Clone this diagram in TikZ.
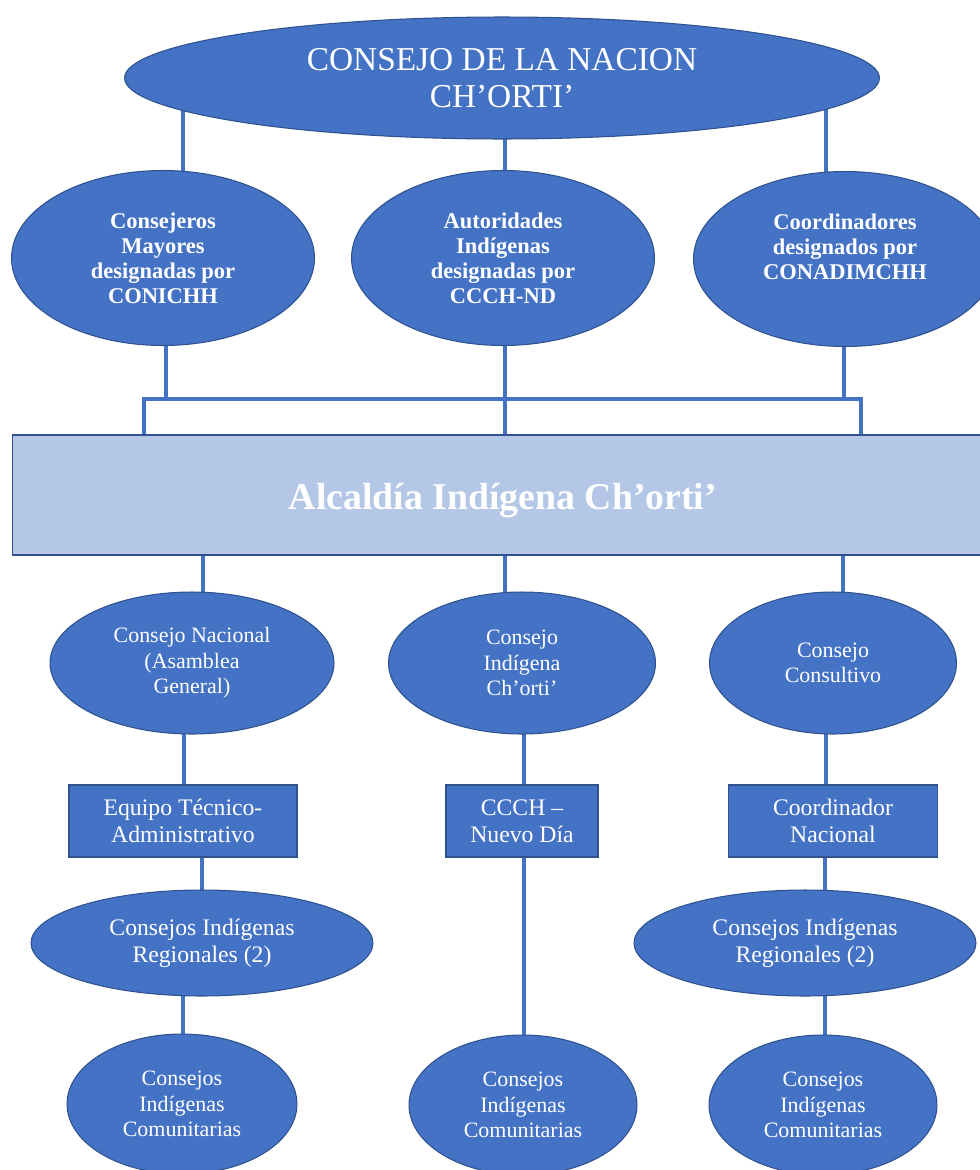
\documentclass[tikz,border=0pt]{standalone}
\usepackage{fontspec}
\setmainfont{Liberation Serif}
\usetikzlibrary{shapes.geometric,backgrounds}

\definecolor{nodeblue}{HTML}{4472C4}
\definecolor{edgeblue}{HTML}{2F528F}
\definecolor{paleblue}{HTML}{B4C7E7}

\tikzset{
  blob/.style={ellipse,draw=edgeblue,line width=0.6pt,fill=nodeblue,
    text=white,align=center,inner sep=0pt},
  boxnode/.style={rectangle,draw=edgeblue,line width=0.6pt,fill=nodeblue,
    text=white,align=center,inner sep=0pt},
  link/.style={draw=nodeblue,line width=2.1pt},
  boldtxt/.style={font=\fontsize{12.8}{14.2}\selectfont\bfseries},
  plaintxt/.style={font=\fontsize{12.5}{14.6}\selectfont},
  bigtxt/.style={font=\fontsize{13.5}{15.5}\selectfont},
}

\begin{document}
\begin{tikzpicture}[x=0.02cm,y=-0.02cm]
  \useasboundingbox (0,0) rectangle (980,1170);
  \clip (0,0) rectangle (980,1170);

  % top
  \node [blob,minimum width=15.1cm,minimum height=2.44cm,
         font=\fontsize{19}{21}\selectfont] (nacion) at (502,78)
        {CONSEJO DE LA NACION\\CH’ORTI’};

  % designados
  \node [blob,boldtxt,minimum width=6.06cm,minimum height=3.5cm] (consejeros) at (163,258)
        {Consejeros\\Mayores\\designadas por\\CONICHH};
  \node [blob,boldtxt,minimum width=6.06cm,minimum height=3.5cm] (autoridades) at (503,258)
        {Autoridades\\Indígenas\\designadas por\\CCCH-ND};
  \node [blob,boldtxt,minimum width=6.06cm,minimum height=3.5cm] (coordinadores) at (845,259)
        {Coordinadores\\designados por\\CONADIMCHH\\};

  % alcaldia
  \node [rectangle,draw=edgeblue,line width=0.6pt,fill=paleblue,text=white,
         minimum width=19.64cm,minimum height=2.4cm,
         font=\fontsize{21.5}{24}\selectfont\bfseries] (alcaldia) at (503,495)
        {\raisebox{-8pt}[0pt][0pt]{Alcaldía Indígena Ch’orti’}};

  % consejos
  \node [blob,plaintxt,minimum width=5.68cm,minimum height=2.84cm] (nacional) at (192,663)
        {Consejo Nacional\\(Asamblea\\General)};
  \node [blob,plaintxt,minimum width=5.34cm,minimum height=2.84cm] (indigena) at (522,663)
        {Consejo\\Indígena\\Ch’orti’};
  \node [blob,plaintxt,minimum width=4.94cm,minimum height=2.84cm] (consultivo) at (833,663)
        {Consejo\\Consultivo};

  \node [boxnode,bigtxt,minimum width=4.56cm,minimum height=1.44cm] (equipo) at (183,821)
        {Equipo Técnico-\\Administrativo};
  \node [boxnode,bigtxt,minimum width=3.04cm,minimum height=1.44cm] (ccch) at (522,821)
        {CCCH –\\Nuevo Día};
  \node [boxnode,bigtxt,minimum width=4.18cm,minimum height=1.44cm] (coordinador) at (833,821)
        {Coordinador\\Nacional};

  \node [blob,bigtxt,minimum width=6.84cm,minimum height=2.12cm] (regionalA) at (202,943)
        {Consejos Indígenas\\Regionales (2)};
  \node [blob,bigtxt,minimum width=6.84cm,minimum height=2.12cm] (regionalB) at (805,943)
        {Consejos Indígenas\\Regionales (2)};

  \node [blob,plaintxt,minimum width=4.6cm,minimum height=2.8cm] (comunA) at (182,1104)
        {Consejos\\Indígenas\\Comunitarias};
  \node [blob,plaintxt,minimum width=4.56cm,minimum height=2.8cm] (comunB) at (523,1105)
        {Consejos\\Indígenas\\Comunitarias};
  \node [blob,plaintxt,minimum width=4.56cm,minimum height=2.8cm] (comunC) at (823,1105)
        {Consejos\\Indígenas\\Comunitarias};

  \coordinate (barL) at (144,399);
  \coordinate (barR) at (861,399);

  \begin{scope}[on background layer]
    \foreach \xx/\a/\b in {183/nacion/consejeros, 505/nacion/autoridades,
        826/nacion/coordinadores, 505/autoridades/alcaldia,
        203/alcaldia/nacional, 505/alcaldia/indigena, 843/alcaldia/consultivo,
        184/nacional/equipo, 524/indigena/ccch, 826/consultivo/coordinador,
        202/equipo/regionalA, 524/ccch/comunB, 825/coordinador/regionalB,
        183/regionalA/comunA, 825/regionalB/comunC}
      \draw [link] (\xx,0 |- \a.center) -- (\xx,0 |- \b.center);
    \draw [link] (166,0 |- consejeros.center) -- (166,0 |- barL);
    \draw [link] (844,0 |- coordinadores.center) -- (844,0 |- barR);
    \draw [link] (barL |- alcaldia.center) -- (barL) -- (barR) -- (barR |- alcaldia.center);
  \end{scope}
\end{tikzpicture}
\end{document}
